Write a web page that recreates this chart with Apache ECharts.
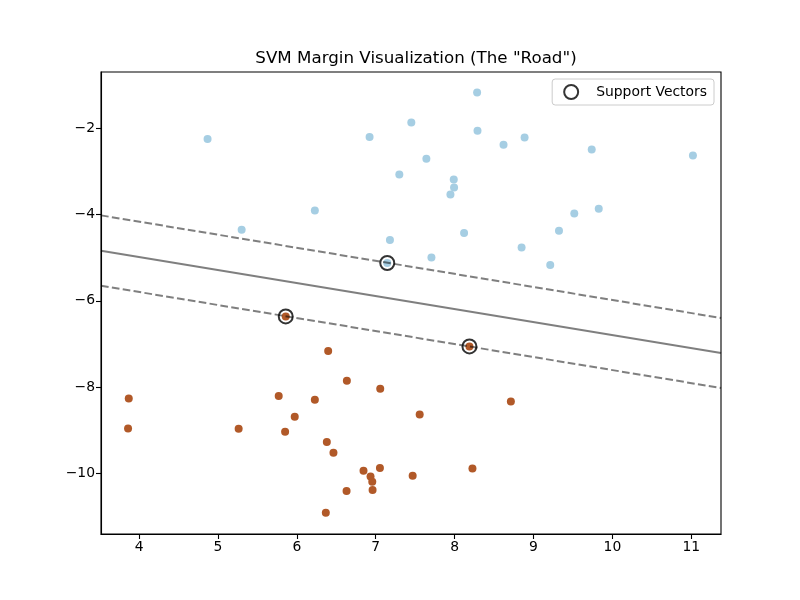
<!DOCTYPE html>
<html>
<head>
<meta charset="utf-8">
<script src="https://cdn.jsdelivr.net/npm/echarts@6/dist/echarts.min.js"></script>
<style>
  html, body { margin: 0; padding: 0; background: #fff; }
  #chart { width: 800px; height: 600px; }
</style>
</head>
<body>
<div id="chart"></div>
<script>
// class 0 (light blue)
var blueX = [4.868, 6.922, 7.451, 7.299, 6.228, 5.300, 7.180, 7.146, 8.285, 8.290, 8.620, 8.887, 9.738,
             11.021, 7.642, 7.989, 7.993, 7.947, 8.120, 7.706, 8.849, 9.212, 9.323, 9.517, 9.827];
var blueY = [-2.255, -2.208, -1.870, -3.074, -3.907, -4.354, -4.592, -5.124, -1.176, -2.062, -2.386, -2.218, -2.495,
             -2.634, -2.710, -3.190, -3.375, -3.537, -4.430, -4.995, -4.763, -5.171, -4.377, -3.976, -3.868];
// class 1 (brown)
var brownX = [5.859, 6.397, 6.634, 7.057, 3.869, 5.770, 6.228, 5.973, 3.860, 5.262, 5.851, 6.380, 6.464,
              6.845, 7.053, 6.934, 6.956, 6.960, 6.630, 6.367, 7.468, 7.557, 8.188, 8.713, 8.226];
var brownY = [-6.360, -7.161, -7.848, -8.033, -8.258, -8.202, -8.288, -8.681, -8.952, -8.959, -9.028, -9.267, -9.515,
              -9.931, -9.869, -10.063, -10.186, -10.378, -10.401, -10.903, -10.047, -8.628, -7.054, -8.327, -9.878];
// support vectors
var svX = [7.146, 5.859, 8.188];
var svY = [-5.124, -6.360, -7.054];
// decision boundary and margins, at the two x limits
var lineX = [3.517, 11.377];
var decisionY = [-4.840, -7.207];
var upperY = [-4.022, -6.397];
var lowerY = [-5.650, -8.017];

var xTicks = [4, 5, 6, 7, 8, 9, 10, 11];
var yTicks = [-10, -8, -6, -4, -2];

function pairs(xs, ys) {
    return xs.map(function (x, i) { return [x, ys[i]]; });
}

var font = 'DejaVu Sans';
var chart = echarts.init(document.getElementById('chart'), null, { renderer: 'canvas' });

function axisCommon(ticks, min, max) {
    return {
        type: 'value',
        min: min,
        max: max,
        splitLine: { show: false },
        axisLine: { show: true, onZero: false, lineStyle: { color: '#000', width: 1.1 } },
        axisTick: { show: true, inside: false, length: 5, customValues: ticks,
                    lineStyle: { color: '#000', width: 1.1 } },
        axisLabel: {
            customValues: ticks,
            color: '#000',
            fontFamily: font,
            fontSize: 13.9,
            margin: 6,
            formatter: function (v) { return v < 0 ? '\u2212' + Math.abs(v) : String(v); }
        }
    };
}

var option = {
    animation: false,
    backgroundColor: '#fff',
    title: {
        text: 'SVM Margin Visualization (The "Road")',
        left: 411,
        top: 45,
        textAlign: 'center',
        textStyle: { fontFamily: font, fontSize: 16.7, fontWeight: 'normal', color: '#000' }
    },
    grid: {
        left: 101, right: 79, top: 72, bottom: 66,
        show: true, borderColor: '#000', borderWidth: 1.1, backgroundColor: '#fff',
        containLabel: false
    },
    legend: {
        right: 86,
        top: 79,
        orient: 'vertical',
        data: ['Support Vectors'],
        backgroundColor: 'rgba(255,255,255,0.8)',
        borderColor: '#cccccc',
        borderWidth: 1,
        borderRadius: 3,
        padding: [5, 7, 5, 11],
        itemWidth: 14,
        itemHeight: 14,
        itemStyle: { color: 'rgba(0,0,0,0)', borderColor: '#000', borderWidth: 2 },
        textStyle: { fontFamily: font, fontSize: 13.9, color: '#000', padding: [0, 0, 0, 13] }
    },
    xAxis: axisCommon(xTicks, lineX[0], lineX[1]),
    yAxis: axisCommon(yTicks, -11.396, -0.704),
    series: [
        {
            name: 'class0', type: 'scatter', symbolSize: 8, z: 2,
            itemStyle: { color: '#a6cee3', opacity: 1 },
            data: pairs(blueX, blueY)
        },
        {
            name: 'class1', type: 'scatter', symbolSize: 8, z: 2,
            itemStyle: { color: '#b15928', opacity: 1 },
            data: pairs(brownX, brownY)
        },
        {
            name: 'decision', type: 'line', symbol: 'none', z: 3,
            lineStyle: { color: '#000', opacity: 0.5, width: 2 },
            data: pairs(lineX, decisionY)
        },
        {
            name: 'upper', type: 'line', symbol: 'none', z: 3,
            lineStyle: { color: '#000', opacity: 0.5, width: 2, type: [7.7, 3.3] },
            data: pairs(lineX, upperY)
        },
        {
            name: 'lower', type: 'line', symbol: 'none', z: 3,
            lineStyle: { color: '#000', opacity: 0.5, width: 2, type: [7.7, 3.3] },
            data: pairs(lineX, lowerY)
        },
        {
            name: 'Support Vectors', type: 'scatter', symbol: 'circle', symbolSize: 14, z: 4,
            itemStyle: { color: 'rgba(0,0,0,0)', borderColor: '#000', borderWidth: 2 },
            data: pairs(svX, svY)
        }
    ]
};

chart.setOption(option);
</script>
</body>
</html>
